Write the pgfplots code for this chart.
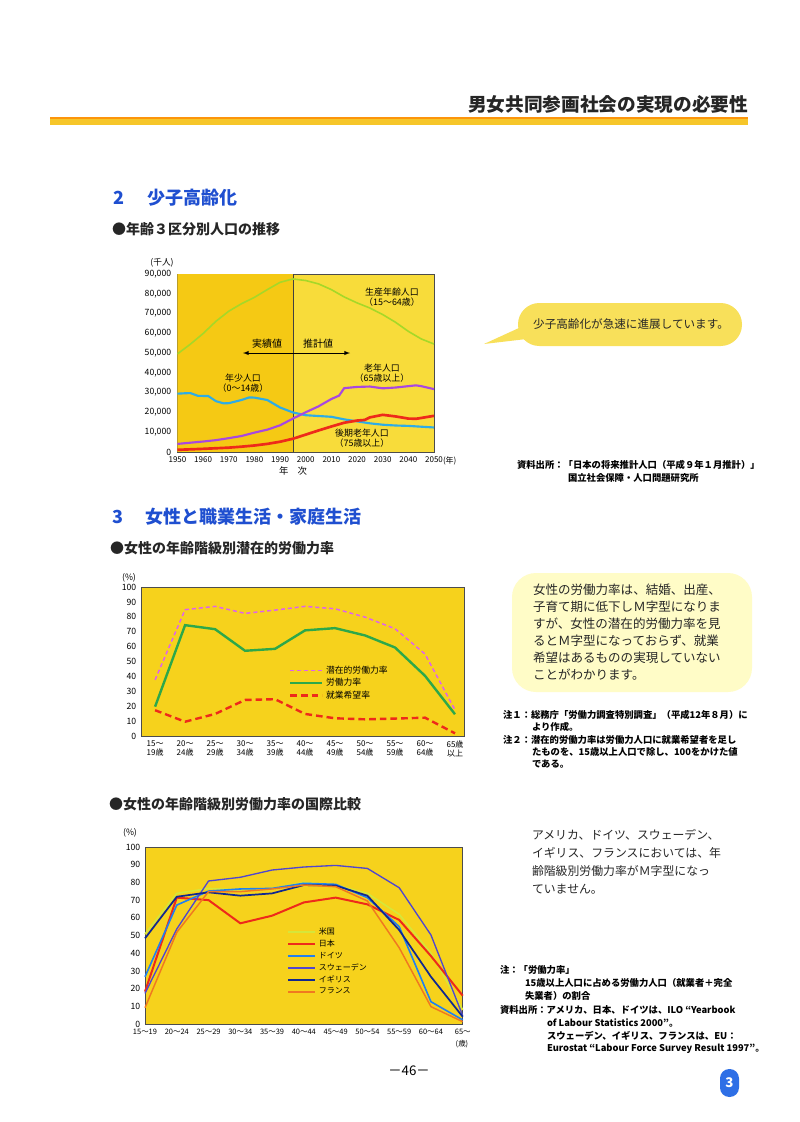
\documentclass[border=0pt]{standalone}
\usepackage{fontspec}
\setmainfont{Noto Sans CJK JP}
\usepackage{pgfplots}
\pgfplotsset{compat=1.18}

\definecolor{gold}{HTML}{F5C914}
\definecolor{lightgold}{HTML}{F8DC3A}
\definecolor{plotyel}{HTML}{F6D21C}
\definecolor{headblue}{HTML}{1F4FD0}
\definecolor{brush}{HTML}{F6C62A}
\definecolor{bubble}{HTML}{F8E05A}
\definecolor{cgreen}{HTML}{A6D828}
\definecolor{ccyan}{HTML}{2EACE6}
\definecolor{cpurple}{HTML}{A848E0}
\definecolor{cred}{HTML}{EE2A1A}
\definecolor{lmag}{HTML}{E060F0}
\definecolor{lgreen}{HTML}{2DA84A}
\definecolor{usa}{HTML}{D6E63A}
\definecolor{ger}{HTML}{2080F0}
\definecolor{swe}{HTML}{5046D0}
\definecolor{gbr}{HTML}{102890}
\definecolor{fra}{HTML}{F07820}
\definecolor{badge}{HTML}{2E6FE6}

\newcommand{\fs}[2]{\fontsize{#1}{#2}\selectfont}

\pgfplotsset{
  pagechart/.style={
    scale only axis,
    axis line style={draw=black!70, line width=0.4pt},
    major tick length=0pt,
    tick label style={font=\fs{6.5}{7.5}},
    /pgf/number format/assume math mode=true,
    no markers,
  }
}

\begin{document}
\begin{tikzpicture}[x=0.75pt,y=-0.75pt, t/.style={inner sep=0pt, outer sep=0pt}]
\fill[white] (0,0) rectangle (800,1122);

% header
\node[t, anchor=east, font=\fs{14}{16}\bfseries, text=black!85] at (748,104) {男女共同参画社会の実現の必要性};
\fill[brush] (50,117) rectangle (748,125);
\fill[orange!70!brush] (50,117) rectangle (748,118.5);

% section 2
\node[t, anchor=west, font=\fs{13.5}{15}\bfseries, text=headblue] at (113,198) {2};
\node[t, anchor=west, font=\fs{13.5}{15}\bfseries, text=headblue] at (147,198) {少子高齢化};
\node[t, anchor=west, font=\fs{10.5}{12}\bfseries, text=black!85] at (112,229) {●年齢３区分別人口の推移};

% chart 1
\begin{axis}[pagechart,
  at={(133.1pt,-339pt)}, anchor=south west,
  width=192.4pt, height=133.5pt,
  xmin=1950, xmax=2050, ymin=0, ymax=90000,
  xtick={1950,1960,...,2050},
  ytick={0,10000,...,90000},
  scaled y ticks=false,
  yticklabel style={/pgf/number format/1000 sep={,}, xshift=-1.2pt},
  xticklabel style={/pgf/number format/1000 sep={}, font=\fs{6}{7}},
  axis background/.style={fill=lightgold},
]
\addplot[fill=gold, draw=none] coordinates {(1950,0) (1950,90000) (1995,90000) (1995,0)};
\addplot[black!75, line width=0.5pt] coordinates {(1995,0) (1995,90000)};
% 15-64
\addplot[cgreen, line width=1.2pt] coordinates {
 (1950,49600) (1955,54500) (1960,59900) (1965,66100) (1970,71200) (1975,75000)
 (1980,78200) (1985,82100) (1990,85800) (1995,87500) (2000,86700) (2005,85000)
 (2010,82100) (2015,78400) (2020,75400) (2025,72800) (2030,69500) (2035,65600)
 (2040,61000) (2045,57200) (2050,54600)};
% 0-14
\addplot[ccyan, line width=1.6pt] coordinates {
 (1950,29500) (1953,29700) (1955,29800) (1958,28400) (1962,28300) (1965,25700)
 (1968,24600) (1970,24700) (1975,26300) (1978,27600) (1980,27500) (1985,26300)
 (1990,22500) (1995,20000) (2000,18600) (2005,18200) (2010,17800) (2015,16500)
 (2020,15500) (2025,14500) (2030,13800) (2035,13400) (2040,13200) (2045,12800)
 (2050,12400)};
% 65+
\addplot[cpurple, line width=1.6pt] coordinates {
 (1950,4100) (1955,4700) (1960,5300) (1965,6000) (1970,7000) (1975,8100)
 (1980,9800) (1985,11300) (1990,13500) (1995,16900) (2000,20100) (2005,23100)
 (2010,26800) (2013,28500) (2015,32300) (2020,32900) (2025,33100) (2030,32200)
 (2035,32600) (2040,33300) (2043,33700) (2045,33300) (2050,31800)};
% 75+
\addplot[cred, line width=2pt] coordinates {
 (1950,1100) (1955,1350) (1960,1600) (1965,1900) (1970,2200) (1975,2700)
 (1980,3300) (1985,4100) (1990,5200) (1995,6700) (2000,8800) (2005,10900)
 (2010,12900) (2015,14800) (2020,15900) (2023,16200) (2025,17500) (2030,18800)
 (2035,18000) (2040,16900) (2043,16800) (2045,17200) (2050,18300)};
\end{axis}
\node[t, font=\fs{6.5}{7.5}] at (162,263) {(千人)};
\node[t, anchor=west, font=\fs{6}{7}] at (443,461) {(年)};
\node[t, font=\fs{7}{8}] at (293,471) {年\quad 次};
\node[t, align=center, font=\fs{6.7}{8}] at (392,297) {生産年齢人口\\（15～64歳）};
\node[t, align=center, font=\fs{6.7}{8}] at (382,373) {老年人口\\（65歳以上）};
\node[t, align=center, font=\fs{6.7}{8}] at (243,383) {年少人口\\（0～14歳）};
\node[t, align=center, font=\fs{6.7}{8}] at (362,438) {後期老年人口\\（75歳以上）};
\node[t, font=\fs{7.5}{8.5}] at (267,344) {実績値};
\node[t, font=\fs{7.5}{8.5}] at (318,344) {推計値};
\draw[-latex, line width=0.5pt] (293,353) -- (243,353);
\draw[-latex, line width=0.5pt] (293,353) -- (350,353);

% bubble
\fill[bubble, rounded corners=16pt] (518,303) rectangle (742,346);
\fill[bubble] (532,322) -- (484,344) -- (535,338) -- cycle;
\node[t, font=\fs{8.7}{10}, text=black!85] at (631,324) {少子高齢化が急速に進展しています。};

% source 1
\node[t, anchor=west, font=\fs{7}{8}\bfseries] at (517,465) {資料出所：「日本の将来推計人口（平成９年１月推計）」};
\node[t, anchor=west, font=\fs{7}{8}\bfseries] at (568,478) {国立社会保障・人口問題研究所};

% section 3
\node[t, anchor=west, font=\fs{13.5}{15}\bfseries, text=headblue] at (112,517) {3};
\node[t, anchor=west, font=\fs{13.5}{15}\bfseries, text=headblue] at (145,517) {女性と職業生活・家庭生活};
\node[t, anchor=west, font=\fs{10.5}{12}\bfseries, text=black!85] at (110,548) {●女性の年齢階級別潜在的労働力率};

% chart 2
\begin{axis}[pagechart,
  at={(105.75pt,-552pt)}, anchor=south west,
  width=242.25pt, height=111.75pt,
  xmin=-0.47, xmax=10.3, ymin=0, ymax=100,
  xtick={0,...,10}, ytick={0,10,...,100},
  clip=false,
  axis background/.style={fill=plotyel},
  xticklabel style={align=center, font=\fs{6}{6.6}},
  xticklabels={{15～\\19歳},{20～\\24歳},{25～\\29歳},{30～\\34歳},{35～\\39歳},{40～\\44歳},{45～\\49歳},{50～\\54歳},{55～\\59歳},{60～\\64歳},{65歳\\以上}},
  legend style={draw=none, fill=none, font=\fs{6.6}{7.5}, at={(rel axis cs:0.445,0.51)}, anchor=north west, row sep=-1.6pt, legend cell align=left},
  legend image code/.code={\draw[#1] (0pt,0pt) -- (24pt,0pt);},
]
\addplot[lmag, line width=1.1pt, dash pattern=on 3pt off 2.2pt] coordinates {
 (0,37.7) (1,84.8) (2,87) (3,82.3) (4,84.5) (5,87) (6,85.4) (7,79.8) (8,72) (9,55) (10,17.5)};
\addlegendentry{潜在的労働力率}
\addplot[lgreen, line width=1.8pt] coordinates {
 (0,19.7) (1,74.4) (2,71.7) (3,57.2) (4,58.5) (5,70.9) (6,72.4) (7,67.5) (8,59.4) (9,40.4) (10,14.6)};
\addlegendentry{労働力率}
\addplot[cred, line width=1.8pt, dash pattern=on 5pt off 3pt] coordinates {
 (0,17.3) (1,9.6) (2,14.8) (3,24.2) (4,24.7) (5,14.8) (6,11.9) (7,11.2) (8,11.7) (9,12.3) (10,1.8)};
\addlegendentry{就業希望率}
\end{axis}
\node[t, font=\fs{6.5}{7.5}] at (129,578) {(\%)};

% text block 2
\fill[yellow!22, rounded corners=18pt] (512,573) rectangle (752,692);
\node[t, anchor=north west, align=left, font=\fs{9.4}{12.75}, text=black!85] at (533,584)
{女性の労働力率は、結婚、出産、\\子育て期に低下しＭ字型になりま\\すが、女性の潜在的労働力率を見\\るとＭ字型になっておらず、就業\\希望はあるものの実現していない\\ことがわかります。};

\node[t, anchor=west, font=\fs{7}{8}\bfseries] at (503,715) {注１：総務庁「労働力調査特別調査」（平成12年８月）に};
\node[t, anchor=west, font=\fs{7}{8}\bfseries] at (532,727) {より作成。};
\node[t, anchor=west, font=\fs{7}{8}\bfseries] at (503,740) {注２：潜在的労働力率は労働力人口に就業希望者を足し};
\node[t, anchor=west, font=\fs{7}{8}\bfseries] at (532,752) {たものを、15歳以上人口で除し、100をかけた値};
\node[t, anchor=west, font=\fs{7}{8}\bfseries] at (532,764) {である。};

% chart 3 title
\node[t, anchor=west, font=\fs{10.5}{12}\bfseries, text=black!85] at (109,804) {●女性の年齢階級別労働力率の国際比較};

% chart 3
\begin{axis}[pagechart,
  at={(108.75pt,-768pt)}, anchor=south west,
  width=238.3pt, height=132.75pt,
  xmin=0, xmax=10, ymin=0, ymax=100,
  xtick={0,...,10}, ytick={0,10,...,100},
  clip=false,
  axis background/.style={fill=plotyel},
  xticklabel style={font=\fs{5.6}{6.5}},
  xticklabels={15～19,20～24,25～29,30～34,35～39,40～44,45～49,50～54,55～59,60～64,65～},
  legend style={draw=none, fill=none, font=\fs{6}{7}, at={(rel axis cs:0.435,0.575)}, anchor=north west, row sep=-1.5pt, legend cell align=left},
  legend image code/.code={\draw[#1] (0pt,0pt) -- (20pt,0pt);},
]
\addplot[usa, line width=1.2pt] coordinates {
 (0,50.8) (1,73.8) (2,76.6) (3,75.7) (4,76.6) (5,80) (6,78.5) (7,73.8) (8,62) (9,40) (10,8)};
\addlegendentry{米国}
\addplot[cred, line width=1.5pt] coordinates {
 (0,18.3) (1,71.4) (2,70) (3,56.9) (4,61.2) (5,68.7) (6,71.4) (7,67.6) (8,58.8) (9,38.4) (10,16)};
\addlegendentry{日本}
\addplot[ger, line width=1.2pt] coordinates {
 (0,26.7) (1,67.2) (2,75.1) (3,76.3) (4,76.6) (5,79.5) (6,78.9) (7,71.4) (8,55) (9,12.6) (10,2.3)};
\addlegendentry{ドイツ}
\addplot[swe, line width=1pt] coordinates {
 (0,17.3) (1,53.7) (2,80.8) (3,82.9) (4,87) (5,88.7) (6,89.6) (7,87.9) (8,77) (9,50.3) (10,4.7)};
\addlegendentry{スウェーデン}
\addplot[gbr, line width=1.3pt] coordinates {
 (0,48.4) (1,71.9) (2,74.4) (3,72.5) (4,73.8) (5,78.5) (6,78.2) (7,72.5) (8,53.1) (9,26.7) (10,4.1)};
\addlegendentry{イギリス}
\addplot[fra, line width=1.1pt] coordinates {
 (0,9.2) (1,51.8) (2,74.8) (3,74.8) (4,76.3) (5,78.5) (6,77.6) (7,69.5) (8,43.1) (9,9.8) (10,1.3)};
\addlegendentry{フランス}
\end{axis}
\node[t, font=\fs{6.5}{7.5}] at (130,833) {(\%)};
\node[t, font=\fs{5.6}{6.5}] at (462,1044) {(歳)};

% text block 3
\node[t, anchor=north west, align=left, font=\fs{8.9}{13.5}, text=black!85] at (532,829)
{アメリカ、ドイツ、スウェーデン、\\イギリス、フランスにおいては、年\\齢階級別労働力率がＭ字型になっ\\ていません。};

\node[t, anchor=west, font=\fs{7}{8}\bfseries] at (500,970) {注：「労働力率」};
\node[t, anchor=west, font=\fs{7}{8}\bfseries] at (525,983) {15歳以上人口に占める労働力人口（就業者＋完全};
\node[t, anchor=west, font=\fs{7}{8}\bfseries] at (525,996) {失業者）の割合};
\node[t, anchor=west, font=\fs{7}{8}\bfseries] at (500,1010) {資料出所：アメリカ、日本、ドイツは、ILO “Yearbook};
\node[t, anchor=west, font=\fs{7}{8}\bfseries] at (547,1023) {of Labour Statistics 2000”。};
\node[t, anchor=west, font=\fs{7}{8}\bfseries] at (547,1036) {スウェーデン、イギリス、フランスは、EU：};
\node[t, anchor=west, font=\fs{7}{8}\bfseries] at (547,1049) {Eurostat “Labour Force Survey Result 1997”。};

% page number
\node[t, font=\fs{10}{12}] at (409,1071) {－46－};
\fill[badge, rounded corners=7pt] (720,1069) rectangle (739,1097);
\node[t, font=\fs{10}{12}\bfseries, text=white] at (729.5,1083) {3};
\end{tikzpicture}
\end{document}
